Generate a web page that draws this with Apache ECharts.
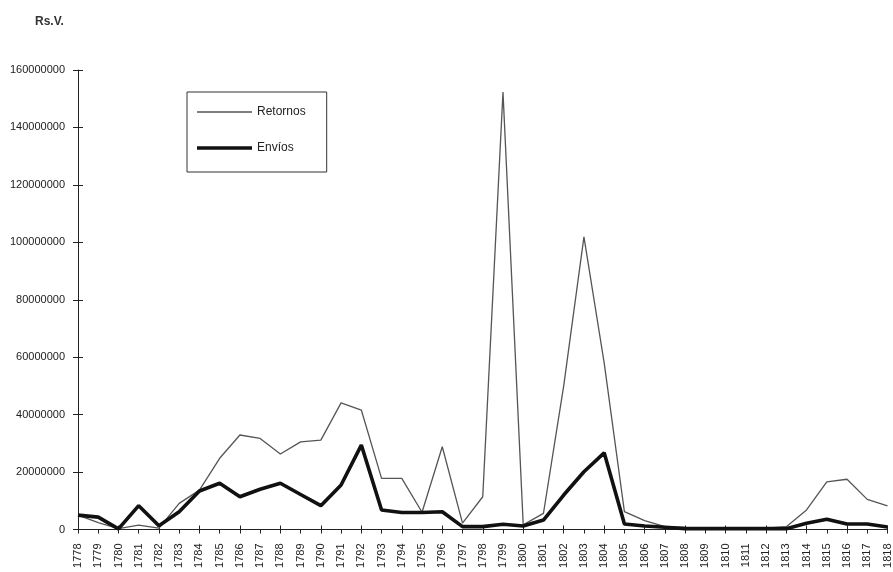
<!DOCTYPE html>
<html>
<head>
<meta charset="utf-8">
<script src="https://cdn.jsdelivr.net/npm/echarts@6/dist/echarts.min.js"></script>
<style>
html,body{margin:0;padding:0;background:#fff;}
#c{width:893px;height:572px;}
</style>
</head>
<body>
<div id="c"></div>
<script>
var years = [];
for (var y = 1778; y <= 1818; y++) years.push(String(y));

var retornos = [
  5000000, 2400000, 300000, 1500000, 500000, 9100000, 13700000, 24800000, 32900000, 31700000,
  26300000, 30500000, 31100000, 44100000, 41600000, 17800000, 17800000, 6000000, 28800000, 2200000,
  11400000, 152300000, 1600000, 5600000, 50000000, 101900000, 58000000, 6200000, 3100000, 1000000,
  700000, 500000, 500000, 500000, 500000, 1000000, 6800000, 16600000, 17500000, 10500000,
  8200000
];
var envios = [
  5000000, 4300000, 200000, 8300000, 1300000, 6200000, 13400000, 16100000, 11400000, 14000000,
  16100000, 12200000, 8300000, 15500000, 29400000, 6800000, 5900000, 5900000, 6200000, 1000000,
  1000000, 1800000, 1200000, 3300000, 12000000, 20100000, 26700000, 1900000, 1200000, 800000,
  300000, 300000, 300000, 300000, 300000, 300000, 2200000, 3600000, 1900000, 1900000,
  900000
];
var seriesNames = ['Retornos', 'Envíos'];
var yMin = 0, yMax = 160000000, yStep = 20000000;

var chart = echarts.init(document.getElementById('c'));
var font = '"Liberation Sans", Arial, sans-serif';
chart.setOption({
  animation: false,
  backgroundColor: '#ffffff',
  title: {
    text: 'Rs.V.',
    left: 30, top: 11,
    textStyle: {fontSize: 12, fontWeight: 'bold', color: '#333', fontFamily: font}
  },
  legend: {
    left: 187, top: 92,
    orient: 'vertical',
    data: [
      {name: seriesNames[0], icon: 'path://M0,0L55,0L55,1.3L0,1.3Z', itemStyle: {color: '#555'}},
      {name: seriesNames[1], icon: 'path://M0,0L55,0L55,3.6L0,3.6Z', itemStyle: {color: '#111'}}
    ],
    symbolKeepAspect: true,
    itemWidth: 55, itemHeight: 12,
    itemGap: 24,
    padding: [14, 21, 18, 10],
    borderColor: '#333', borderWidth: 1,
    textStyle: {fontSize: 12, color: '#222', fontFamily: font}
  },
  grid: {left: 78, right: 3, top: 70, bottom: 42.5, containLabel: false},
  xAxis: [{
    type: 'category', data: years, boundaryGap: false,
    axisLine: {lineStyle: {color: '#222', width: 1}},
    axisTick: {alignWithLabel: true, length: 4, lineStyle: {color: '#222'}},
    axisLabel: {rotate: 90, fontSize: 11, color: '#222', fontFamily: font, margin: 14, interval: 0},
    splitLine: {show: false}
  }, {
    type: 'category', data: years, boundaryGap: false, position: 'bottom',
    axisLine: {show: false},
    axisTick: {inside: true, length: 4, lineStyle: {color: '#222'}},
    axisLabel: {show: false},
    splitLine: {show: false}
  }],
  yAxis: [{
    type: 'value', min: yMin, max: yMax, interval: yStep,
    axisLine: {show: true, lineStyle: {color: '#222', width: 1}},
    axisTick: {show: true, length: 5, lineStyle: {color: '#222'}},
    axisLabel: {fontSize: 11, color: '#222', fontFamily: font, margin: 13, formatter: function (v) { return String(v); }},
    splitLine: {show: false}
  }, {
    type: 'value', min: yMin, max: yMax, interval: yStep, position: 'left',
    axisLine: {show: false},
    axisTick: {show: true, inside: true, length: 5, lineStyle: {color: '#222'}},
    axisLabel: {show: false},
    splitLine: {show: false}
  }],
  series: [{
    name: seriesNames[0], type: 'line', data: retornos,
    symbol: 'none', lineStyle: {color: '#555', width: 1.3},
    itemStyle: {color: '#555'}
  }, {
    name: seriesNames[1], type: 'line', data: envios,
    symbol: 'none', lineStyle: {color: '#111', width: 3.6},
    itemStyle: {color: '#111'}
  }]
});
</script>
</body>
</html>
